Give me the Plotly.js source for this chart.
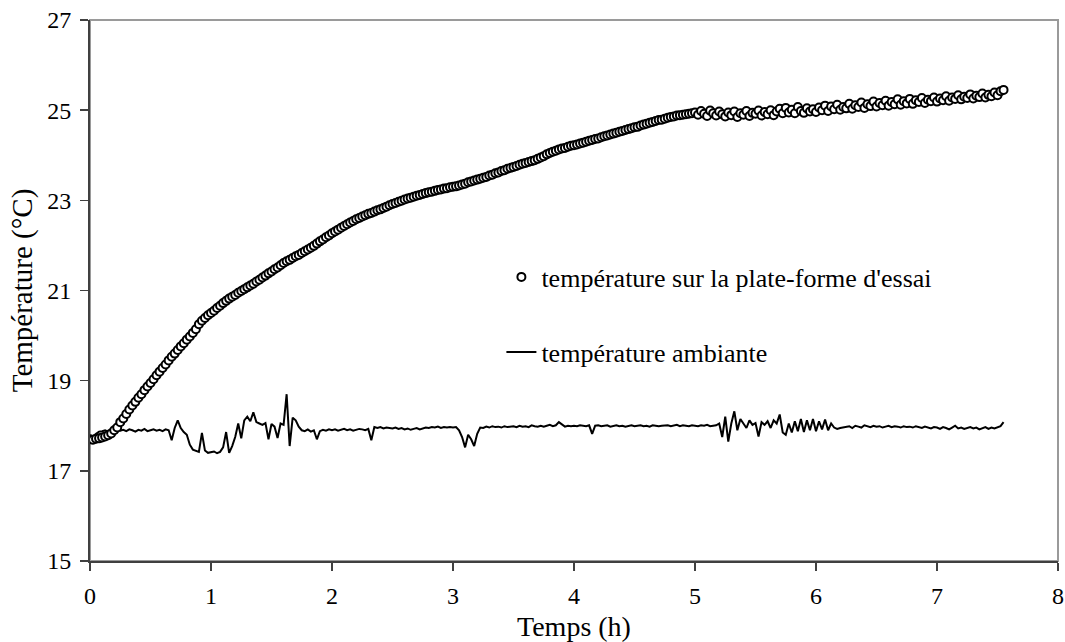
<!DOCTYPE html>
<html>
<head>
<meta charset="utf-8">
<script src="https://cdn.plot.ly/plotly-3.0.1.min.js"></script>
<style>html,body{margin:0;padding:0;background:#fff;}#chart{width:1065px;height:642px;}</style>
</head>
<body>
<div id="chart"></div>
<script>
// Sampling interval of both series, in hours
const timeStep = 0.025;

// Température sur la plate-forme d'essai (°C), one value every timeStep from t = 0 h
const platformTemp = [
  17.70,17.69,17.71,17.72,17.74,17.76,17.79,17.83,17.90,17.96,
  18.08,18.16,18.26,18.36,18.45,18.53,18.62,18.70,18.79,18.87,
  18.95,19.03,19.12,19.20,19.28,19.36,19.45,19.53,19.60,19.68,
  19.76,19.83,19.91,19.98,20.06,20.14,20.25,20.33,20.39,20.45,
  20.50,20.55,20.61,20.66,20.72,20.77,20.82,20.86,20.90,20.95,
  20.99,21.03,21.07,21.11,21.15,21.20,21.24,21.29,21.33,21.38,
  21.42,21.47,21.51,21.56,21.61,21.65,21.68,21.72,21.76,21.79,
  21.83,21.87,21.91,21.95,21.99,22.04,22.09,22.13,22.18,22.22,
  22.27,22.31,22.35,22.39,22.43,22.47,22.51,22.54,22.58,22.61,
  22.64,22.67,22.70,22.72,22.75,22.78,22.80,22.83,22.86,22.89,
  22.92,22.94,22.97,22.99,23.02,23.04,23.06,23.08,23.10,23.12,
  23.14,23.16,23.18,23.19,23.21,23.23,23.24,23.26,23.27,23.29,
  23.30,23.31,23.33,23.35,23.37,23.40,23.42,23.44,23.46,23.48,
  23.50,23.52,23.55,23.57,23.60,23.62,23.65,23.67,23.70,23.72,
  23.74,23.76,23.79,23.81,23.83,23.85,23.87,23.89,23.92,23.95,
  23.98,24.02,24.05,24.08,24.10,24.13,24.15,24.16,24.19,24.21,
  24.22,24.24,24.26,24.28,24.30,24.32,24.34,24.36,24.37,24.40,
  24.42,24.44,24.46,24.48,24.50,24.52,24.54,24.56,24.58,24.60,
  24.62,24.63,24.66,24.68,24.70,24.72,24.74,24.76,24.78,24.79,
  24.81,24.83,24.85,24.86,24.88,24.89,24.90,24.91,24.92,24.93,
  24.95,24.90,24.98,24.92,24.87,24.99,24.93,24.88,24.97,24.91,
  24.86,24.95,24.89,24.97,24.85,24.93,24.90,24.98,24.87,24.94,
  24.92,24.99,24.88,24.96,24.91,25.00,24.89,24.97,25.03,24.93,
  25.05,24.95,25.01,24.93,25.07,24.98,24.94,25.04,24.97,25.02,
  24.96,25.06,25.00,25.10,24.98,25.08,25.02,25.12,25.01,25.07,
  25.04,25.14,25.03,25.11,25.07,25.17,25.05,25.13,25.09,25.19,
  25.08,25.16,25.11,25.21,25.10,25.18,25.13,25.24,25.12,25.20,
  25.15,25.25,25.14,25.22,25.18,25.27,25.16,25.23,25.20,25.28,
  25.19,25.26,25.22,25.31,25.21,25.28,25.25,25.33,25.24,25.30,
  25.27,25.35,25.26,25.32,25.29,25.37,25.28,25.34,25.31,25.39,
  25.33,25.42,25.45
];

// Température ambiante (°C), one value every timeStep from t = 0 h
const ambientTemp = [
  17.72,17.76,17.82,17.87,17.88,17.90,17.87,17.91,17.89,17.92,
  17.89,17.91,17.88,17.92,17.90,17.87,17.91,17.89,17.93,17.88,
  17.90,17.92,17.89,17.91,17.88,17.92,17.90,17.68,17.95,18.12,
  17.95,17.86,17.80,17.58,17.47,17.44,17.42,17.84,17.45,17.40,
  17.41,17.43,17.39,17.42,17.52,17.86,17.40,17.55,17.75,18.05,
  17.72,18.12,18.20,18.10,18.30,18.08,18.05,18.02,18.06,17.70,
  18.04,17.98,17.73,18.05,18.02,18.70,17.55,18.18,18.12,17.98,
  17.90,17.88,17.92,17.87,17.90,17.70,17.88,17.91,17.89,17.92,
  17.90,17.92,17.89,17.91,17.93,17.90,17.92,17.89,17.91,17.93,
  17.92,17.90,17.93,17.68,17.97,17.95,17.97,17.94,17.96,17.95,
  17.94,17.96,17.93,17.95,17.92,17.94,17.91,17.93,17.95,17.92,
  17.94,17.96,17.95,17.97,17.96,17.98,17.95,17.97,17.96,17.97,
  17.96,17.97,17.90,17.75,17.52,17.80,17.70,17.55,17.82,17.96,
  17.95,17.98,17.96,17.99,17.97,17.98,17.96,17.99,17.97,17.98,
  17.99,17.97,18.00,17.98,17.99,17.97,18.01,17.99,17.98,18.00,
  17.98,18.00,18.02,17.99,18.01,18.08,18.02,17.98,18.00,17.99,
  18.00,17.99,18.01,18.00,17.99,18.01,17.82,18.00,18.01,17.99,
  18.00,18.01,17.98,18.00,18.01,17.99,18.00,17.98,18.00,18.01,
  17.99,18.00,18.01,17.99,18.00,17.98,18.01,18.00,17.99,18.00,
  18.00,18.01,17.99,18.00,18.02,17.99,18.01,18.00,17.99,18.01,
  18.00,17.99,18.01,18.00,18.02,17.99,18.00,18.01,18.05,17.75,
  18.20,17.65,18.05,18.32,17.90,18.15,18.05,17.95,18.12,18.02,
  18.06,17.76,18.08,18.02,18.10,17.95,18.12,18.05,18.25,17.85,
  17.80,18.05,17.85,18.10,17.88,18.15,17.86,18.12,17.90,18.15,
  17.88,18.10,17.92,18.14,17.90,18.05,17.96,17.93,17.95,17.96,
  17.97,17.99,17.95,18.00,17.98,17.96,18.01,17.99,17.97,18.00,
  17.98,17.99,17.96,17.98,18.00,17.97,17.99,17.98,17.96,17.99,
  17.97,17.98,17.96,17.99,17.97,17.95,17.98,17.96,17.94,17.97,
  17.96,17.93,17.97,17.95,17.92,17.96,18.00,17.94,17.96,17.93,
  17.95,17.97,17.94,17.96,17.92,17.95,17.97,17.93,17.96,17.94,
  17.97,17.99,18.08
];

const seriesNames = ["température sur la plate-forme d'essai", "température ambiante"];
const xTickValues = [0, 1, 2, 3, 4, 5, 6, 7, 8];
const yTickValues = [15, 17, 19, 21, 23, 25, 27];
const xTitle = "Temps (h)";
const yTitle = "Température (°C)";

const timesFor = arr => arr.map((_, i) => +(i * timeStep).toFixed(3));

const serif = "Liberation Serif, Times New Roman, serif";

const traces = [
  {
    x: timesFor(ambientTemp), y: ambientTemp,
    type: 'scatter', mode: 'lines', name: seriesNames[1],
    line: {color: '#000000', width: 2},
    legend: 'legend2', hoverinfo: 'skip'
  },
  {
    x: timesFor(platformTemp), y: platformTemp,
    type: 'scatter', mode: 'markers', name: seriesNames[0],
    marker: {symbol: 'circle', size: 8, color: '#ffffff', line: {color: '#000000', width: 2}},
    legend: 'legend', hoverinfo: 'skip'
  }
];

const axisCommon = {
  showgrid: false, zeroline: false,
  showline: true, linecolor: '#404040', linewidth: 2,
  ticks: 'outside', ticklen: 8, tickwidth: 1.5, tickcolor: '#404040',
  tickfont: {family: serif, size: 24, color: '#000'},
  mirror: false, fixedrange: true
};

const layout = {
  width: 1065, height: 642,
  font: {family: serif, color: '#000'},
  margin: {l: 90, r: 7, t: 20, b: 81, pad: 0},
  paper_bgcolor: '#ffffff', plot_bgcolor: '#ffffff',
  showlegend: true,
  xaxis: Object.assign({}, axisCommon, {
    range: [0, 8], tickvals: xTickValues, ticktext: xTickValues.map(String),
    ticklabelstandoff: 4,
    title: {text: xTitle, font: {family: serif, size: 28, color: '#000'}, standoff: 13}
  }),
  yaxis: Object.assign({}, axisCommon, {
    range: [15, 27], tickvals: yTickValues, ticktext: yTickValues.map(String),
    ticklabelstandoff: 4,
    title: {text: yTitle, font: {family: serif, size: 29, color: '#000'}, standoff: 6}
  }),
  legend: {
    x: 0.425, y: 0.525, xanchor: 'left', yanchor: 'middle',
    bgcolor: 'rgba(0,0,0,0)', borderwidth: 0,
    font: {family: serif, size: 26, color: '#000'}
  },
  legend2: {
    x: 0.425, y: 0.386, xanchor: 'left', yanchor: 'middle',
    bgcolor: 'rgba(0,0,0,0)', borderwidth: 0,
    font: {family: serif, size: 26, color: '#000'}
  },
  shapes: [{
    type: 'rect', xref: 'paper', yref: 'paper', x0: 0, x1: 1, y0: 0, y1: 1,
    line: {color: '#9a9a9a', width: 2}, layer: 'below'
  }]
};

Plotly.newPlot('chart', traces, layout, {staticPlot: true, displayModeBar: false});
</script>
</body>
</html>
